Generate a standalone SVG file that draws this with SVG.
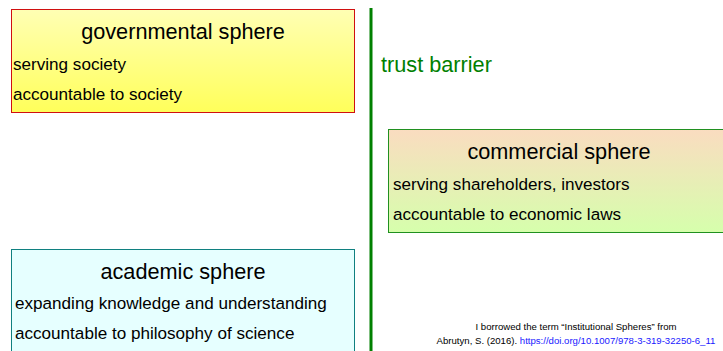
<svg xmlns="http://www.w3.org/2000/svg" width="723" height="351" viewBox="0 0 723 351">
<defs>
<linearGradient id="gYellow" x1="0" y1="0" x2="0" y2="1"><stop offset="0" stop-color="#ffffb4"/><stop offset="1" stop-color="#ffff5a"/></linearGradient>
<linearGradient id="gCom" x1="0" y1="0" x2="0" y2="1"><stop offset="0" stop-color="#fadcc0"/><stop offset="1" stop-color="#d6ffac"/></linearGradient>
<style>
text{font-family:"Liberation Sans",Arial,sans-serif;fill:#000}
.t{font-size:21.7px;text-anchor:middle}
.b{font-size:17.1px}
.f{font-size:9.6px;text-anchor:middle}
</style>
</defs>
<rect width="723" height="351" fill="#fff"/>
<g id="connectors">
<line x1="371" y1="8" x2="371" y2="351" stroke="#008000" stroke-width="3"/>
</g>
<g id="trust-barrier"><text x="381" y="72" style="font-size:21.7px;fill:#008000">trust barrier</text></g>
<g id="governmental">
<rect x="11.5" y="9.5" width="343" height="103" fill="url(#gYellow)" stroke="#d01010" stroke-width="1"/>
<text class="t" x="183" y="39">governmental sphere</text>
<text class="b" x="13" y="70">serving society</text>
<text class="b" x="13" y="100">accountable to society</text>
</g>
<g id="commercial">
<rect x="388.5" y="129.5" width="340" height="103" fill="url(#gCom)" stroke="#209020" stroke-width="1"/>
<text class="t" x="559" y="159">commercial sphere</text>
<text class="b" x="393" y="190">serving shareholders, investors</text>
<text class="b" x="393" y="220">accountable to economic laws</text>
</g>
<g id="academic">
<rect x="11.5" y="249.5" width="343" height="110" fill="#e6ffff" stroke="#108080" stroke-width="1"/>
<text class="t" x="183" y="279">academic sphere</text>
<text class="b" x="15" y="309">expanding knowledge and understanding</text>
<text class="b" x="15" y="339">accountable to philosophy of science</text>
</g>
<g id="footer">
<text class="f" x="576" y="330">I borrowed the term “Institutional Spheres” from</text>
<text class="f" x="576" y="344">Abrutyn, S. (2016).  <tspan style="fill:#1a1aff">https://doi.org/10.1007/978-3-319-32250-6_11</tspan></text>
</g>
</svg>
